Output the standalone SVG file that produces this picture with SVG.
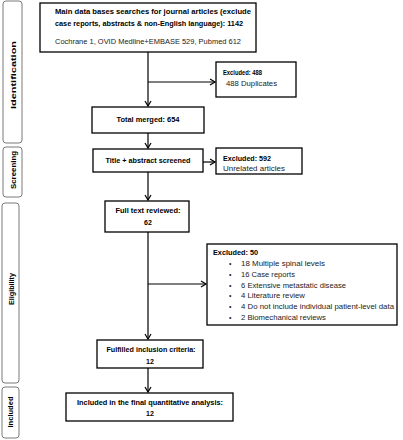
<svg xmlns="http://www.w3.org/2000/svg" width="403" height="440" viewBox="0 0 403 440">
<style>
.box{fill:#fff;stroke:#000;stroke-width:1.3}
.side{fill:#fff;stroke:#7a7a7a;stroke-width:1}
.ln{fill:none;stroke:#000;stroke-width:1.2;marker-end:url(#ah)}
text{font-family:"Liberation Sans",Arial,sans-serif;fill:#000}
.b{font-weight:bold;font-size:7px}
.n{font-size:7px;fill:#222}
.s{font-weight:bold;font-size:7px}
</style>
<defs>
<marker id="ah" markerWidth="8" markerHeight="8" refX="6" refY="4" orient="auto" markerUnits="userSpaceOnUse">
<path d="M1,1 L6,4 L1,7" fill="none" stroke="#000" stroke-width="1.2"/>
</marker>
</defs>
<g id="sidebar-identification">
<rect class="side" x="3" y="1" width="19" height="142" rx="3"/>
<text class="s" transform="translate(16,75) rotate(-90)" text-anchor="middle" textLength="68" lengthAdjust="spacingAndGlyphs">Identification</text>
</g>
<g id="sidebar-screening">
<rect class="side" x="3" y="147" width="19" height="50" rx="3"/>
<text class="s" transform="translate(16,170) rotate(-90)" text-anchor="middle" textLength="38" lengthAdjust="spacingAndGlyphs">Screening</text>
</g>
<g id="sidebar-eligibility">
<rect class="side" x="2" y="203" width="17" height="180" rx="3"/>
<text class="s" transform="translate(13.5,289) rotate(-90)" text-anchor="middle" textLength="32" lengthAdjust="spacingAndGlyphs">Eligibility</text>
</g>
<g id="sidebar-included">
<rect class="side" x="2" y="387" width="17" height="51" rx="3"/>
<text class="s" transform="translate(13,412) rotate(-90)" text-anchor="middle" textLength="31" lengthAdjust="spacingAndGlyphs">Included</text>
</g>
<g id="connectors">
<line class="ln" x1="148" y1="52" x2="148" y2="106"/>
<line class="ln" x1="148" y1="82" x2="215" y2="82"/>
<line class="ln" x1="148" y1="133" x2="148" y2="148"/>
<line class="ln" x1="203" y1="162" x2="215" y2="162"/>
<line class="ln" x1="148" y1="172" x2="148" y2="200"/>
<line class="ln" x1="148" y1="232" x2="148" y2="339"/>
<line class="ln" x1="148" y1="284" x2="206" y2="284"/>
<line class="ln" x1="148" y1="368" x2="148" y2="392"/>
</g>
<g id="search">
<rect class="box" x="40" y="3" width="216" height="49"/>
<text class="b" x="55" y="14" textLength="196" lengthAdjust="spacingAndGlyphs">Main data bases searches for journal articles (exclude</text>
<text class="b" x="55" y="26" textLength="188" lengthAdjust="spacingAndGlyphs">case reports, abstracts &amp; non-English language): 1142</text>
<text class="n" x="55" y="44" textLength="186" lengthAdjust="spacingAndGlyphs">Cochrane 1, OVID Medline+EMBASE 529, Pubmed 612</text>
</g>
<g id="excluded-488">
<rect class="box" x="216" y="62" width="80" height="35"/>
<text class="b" x="223" y="75" textLength="39" lengthAdjust="spacingAndGlyphs">Excluded: 488</text>
<text class="n" x="226" y="86" textLength="51" lengthAdjust="spacingAndGlyphs">488 Duplicates</text>
</g>
<g id="total-merged">
<rect class="box" x="92" y="107" width="112" height="26"/>
<text class="b" x="148" y="122" text-anchor="middle" textLength="63" lengthAdjust="spacingAndGlyphs">Total merged: 654</text>
</g>
<g id="title-abstract">
<rect class="box" x="93" y="149" width="110" height="23"/>
<text class="b" x="148" y="163" text-anchor="middle" textLength="85" lengthAdjust="spacingAndGlyphs">Title + abstract screened</text>
</g>
<g id="excluded-592">
<rect class="box" x="216" y="148" width="86" height="26"/>
<text class="b" x="223" y="161" textLength="48" lengthAdjust="spacingAndGlyphs">Excluded: 592</text>
<text class="n" x="223" y="171" textLength="62" lengthAdjust="spacingAndGlyphs">Unrelated articles</text>
</g>
<g id="full-text">
<rect class="box" x="105" y="201" width="84" height="31"/>
<text class="b" x="148" y="213" text-anchor="middle" textLength="65" lengthAdjust="spacingAndGlyphs">Full text reviewed:</text>
<text class="b" x="148" y="225" text-anchor="middle">62</text>
</g>
<g id="excluded-50">
<rect class="box" x="207" y="244" width="190" height="81"/>
<text class="b" x="213" y="255" textLength="45" lengthAdjust="spacingAndGlyphs">Excluded: 50</text>
<g class="n">
<text class="n" x="229" y="266">•</text>
<text class="n" x="241" y="266" textLength="84" lengthAdjust="spacingAndGlyphs">18 Multiple spinal levels</text>
<text class="n" x="229" y="277">•</text>
<text class="n" x="241" y="277" textLength="54" lengthAdjust="spacingAndGlyphs">16 Case reports</text>
<text class="n" x="229" y="288">•</text>
<text class="n" x="241" y="288" textLength="105" lengthAdjust="spacingAndGlyphs">6 Extensive metastatic disease</text>
<text class="n" x="229" y="298">•</text>
<text class="n" x="241" y="298" textLength="64" lengthAdjust="spacingAndGlyphs">4 Literature review</text>
<text class="n" x="229" y="309">•</text>
<text class="n" x="241" y="309" textLength="153" lengthAdjust="spacingAndGlyphs">4 Do not include individual patient-level data</text>
<text class="n" x="229" y="320">•</text>
<text class="n" x="241" y="320" textLength="85" lengthAdjust="spacingAndGlyphs">2 Biomechanical reviews</text>
</g>
</g>
<g id="fulfilled">
<rect class="box" x="97" y="340" width="106" height="28"/>
<text class="b" x="151" y="352" text-anchor="middle" textLength="89" lengthAdjust="spacingAndGlyphs">Fulfilled inclusion criteria:</text>
<text class="b" x="150" y="364" text-anchor="middle">12</text>
</g>
<g id="included">
<rect class="box" x="66" y="393" width="167" height="28"/>
<text class="b" x="150" y="405" text-anchor="middle" textLength="146" lengthAdjust="spacingAndGlyphs">Included  in the final quantitative  analysis:</text>
<text class="b" x="150" y="416" text-anchor="middle">12</text>
</g>
</svg>
